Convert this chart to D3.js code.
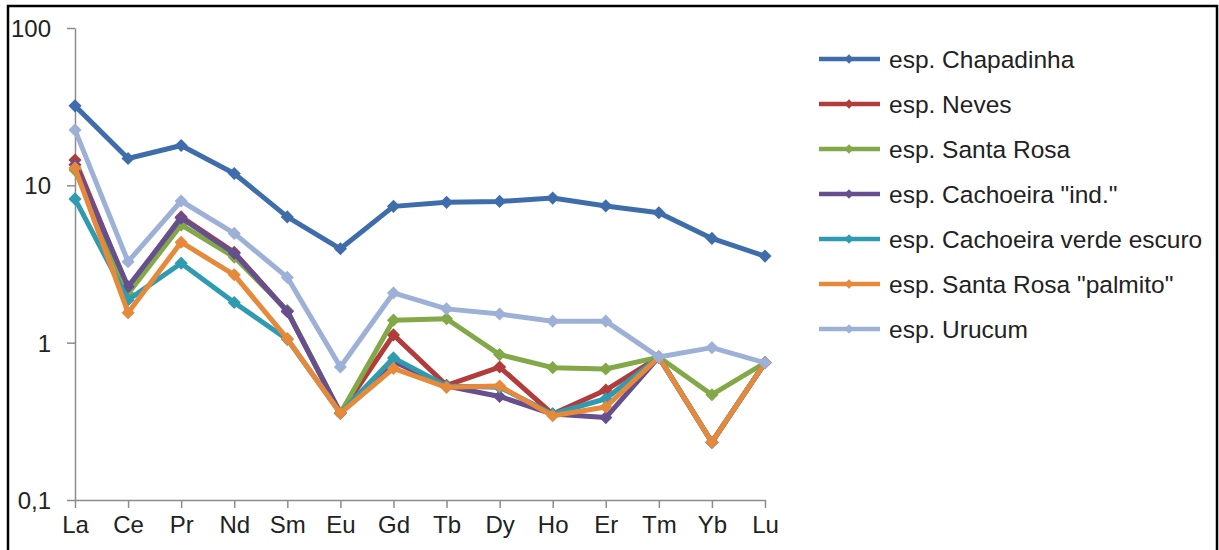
<!DOCTYPE html>
<html lang="en">
<head>
<meta charset="UTF-8" />
<title>REE pattern</title>
<script src="https://d3js.org/d3.v7.min.js"></script>
<style>
  body { margin: 0; background: #fff; }
  svg text { font-family: "Liberation Sans", Arial, sans-serif; fill: #222; }
</style>
</head>
<body>
<div class="chart"></div>
<script>
  // data
  const elements = ["La", "Ce", "Pr", "Nd", "Sm", "Eu", "Gd", "Tb", "Dy", "Ho", "Er", "Tm", "Yb", "Lu"];
  const seriesNames = ["esp. Chapadinha", "esp. Neves", "esp. Santa Rosa", "esp. Cachoeira \"ind.\"",
                       "esp. Cachoeira verde escuro", "esp. Santa Rosa \"palmito\"", "esp. Urucum"];
  const seriesColors = ["#3f6dab", "#b23b3c", "#83a847", "#654f8f", "#2f9bb0", "#e6893a", "#9db0d6"];

  const chapadinha   = [32.0, 14.8, 17.9, 11.9, 6.3, 3.95, 7.35, 7.8, 7.9, 8.3, 7.4, 6.7, 4.6, 3.55];
  const neves        = [14.5, 2.2, 6.3, 3.75, 1.58, 0.356, 1.12, 0.536, 0.70, 0.352, 0.50, 0.81, 0.233, 0.745];
  const santaRosa    = [12.5, 2.05, 5.6, 3.5, 1.6, 0.356, 1.39, 1.42, 0.84, 0.694, 0.68, 0.81, 0.467, 0.745];
  const cachoeiraInd = [13.5, 2.27, 6.2, 3.7, 1.58, 0.356, 0.76, 0.53, 0.455, 0.352, 0.334, 0.81, 0.233, 0.745];
  const cachoeiraVe  = [8.2, 1.87, 3.2, 1.8, 1.05, 0.356, 0.80, 0.53, 0.52, 0.352, 0.44, 0.81, 0.233, 0.745];
  const palmito      = [12.9, 1.55, 4.35, 2.7, 1.06, 0.356, 0.687, 0.52, 0.53, 0.343, 0.39, 0.81, 0.233, 0.745];
  const urucum       = [22.5, 3.27, 7.95, 4.95, 2.6, 0.70, 2.07, 1.64, 1.52, 1.37, 1.37, 0.81, 0.93, 0.745];

  const allSeries = [chapadinha, neves, santaRosa, cachoeiraInd, cachoeiraVe, palmito, urucum];
  const yTicks = [0.1, 1, 10, 100];
  const yTickLabels = ["0,1", "1", "10", "100"];

  const width = 1219, height = 550;
  const svg = d3.select(".chart").append("svg")
    .attr("width", width)
    .attr("height", height);

  // frame round the whole picture
  svg.append("rect")
    .attr("x", 8).attr("y", 6)
    .attr("width", 1209).attr("height", 600)
    .attr("fill", "none")
    .attr("stroke", "#000")
    .attr("stroke-width", 2.5);

  let x = d3.scalePoint()
    .domain(elements)
    .range([75, 765]);

  let y = d3.scaleLog()
    .domain([0.1, 100])
    .range([500, 28]);

  const axisColor = "#8c8c8c";

  // y axis
  let yAxis = svg.append("g")
    .attr("transform", "translate(75,0)")
    .call(d3.axisLeft(y).tickValues(yTicks).tickFormat((d, i) => yTickLabels[i]).tickSize(8).tickSizeOuter(0).tickPadding(16));
  yAxis.select(".domain").attr("stroke", axisColor).attr("stroke-width", 1.5);
  yAxis.selectAll(".tick line").attr("stroke", axisColor).attr("stroke-width", 1.5);
  yAxis.selectAll(".tick text")
    .attr("font-size", 24)
    .attr("font-family", "Liberation Sans, Arial, sans-serif")
    .attr("fill", "#222")
    .attr("dy", "0.36em");

  // x axis
  let xAxis = svg.append("g")
    .attr("transform", "translate(0,500)")
    .call(d3.axisBottom(x).tickSize(8).tickSizeOuter(0).tickPadding(8));
  xAxis.select(".domain").attr("stroke", axisColor).attr("stroke-width", 1.5);
  xAxis.selectAll(".tick line").attr("stroke", axisColor).attr("stroke-width", 1.5);
  xAxis.selectAll(".tick text")
    .attr("font-size", 24)
    .attr("font-family", "Liberation Sans, Arial, sans-serif")
    .attr("fill", "#222");

  const line = d3.line()
    .x((d, i) => x(elements[i]))
    .y(d => y(d));

  const diamond = d3.symbol().type(d3.symbolDiamond2).size(110);

  let g = svg.append("g");
  allSeries.forEach((vals, s) => {
    let sg = g.append("g");
    sg.append("path")
      .datum(vals)
      .attr("fill", "none")
      .attr("stroke", seriesColors[s])
      .attr("stroke-width", 5)
      .attr("stroke-linejoin", "round")
      .attr("d", line);
    sg.selectAll("path.mark")
      .data(vals)
      .enter()
      .append("path")
      .attr("class", "mark")
      .attr("transform", (d, i) => `translate(${x(elements[i])},${y(d)})`)
      .attr("d", diamond)
      .attr("fill", seriesColors[s]);
  });

  // legend
  let legend = svg.append("g");
  seriesNames.forEach((name, i) => {
    let ly = 59 + i * 45;
    legend.append("line")
      .attr("x1", 819).attr("x2", 880)
      .attr("y1", ly).attr("y2", ly)
      .attr("stroke", seriesColors[i])
      .attr("stroke-width", 4.5);
    legend.append("path")
      .attr("transform", `translate(849,${ly})`)
      .attr("d", d3.symbol().type(d3.symbolDiamond2).size(55))
      .attr("fill", seriesColors[i]);
    legend.append("text")
      .attr("x", 889)
      .attr("y", ly)
      .attr("dy", "0.36em")
      .attr("font-size", 24.5)
      .text(name);
  });
</script>
</body>
</html>
